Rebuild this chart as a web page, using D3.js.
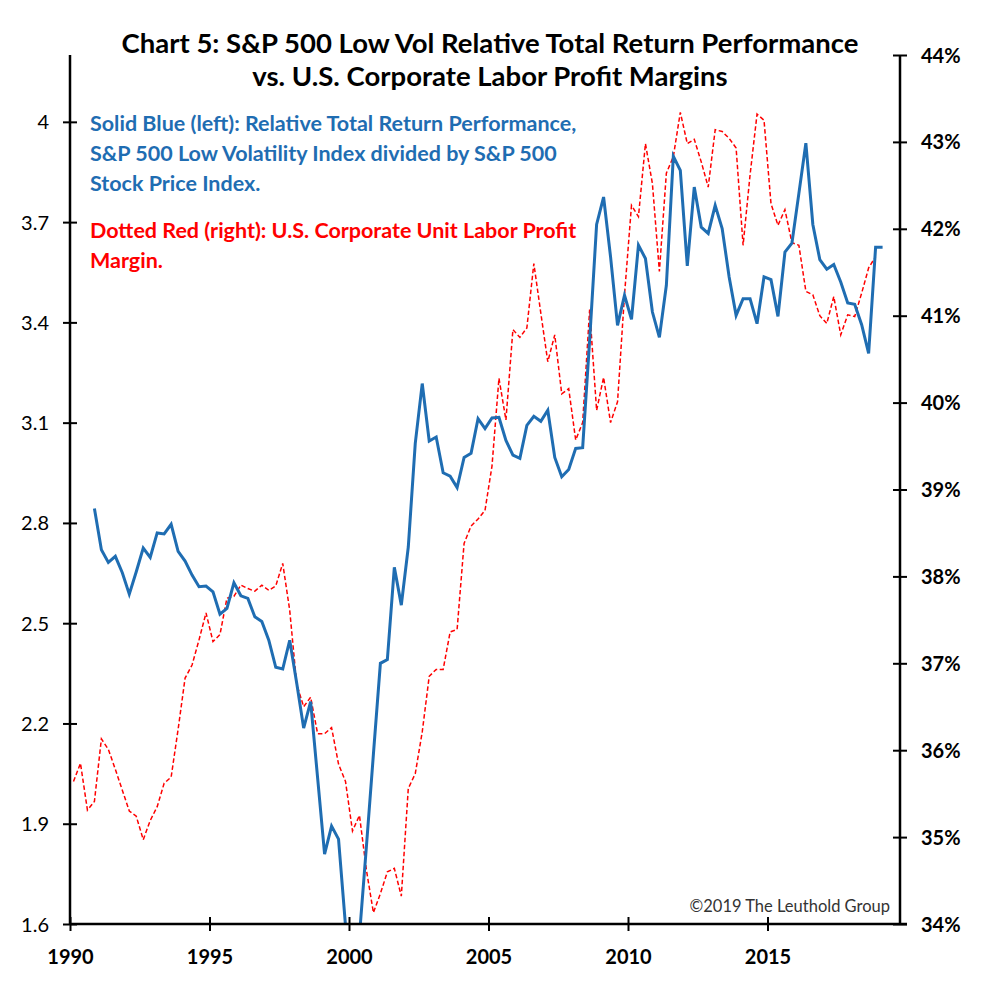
<!DOCTYPE html>
<html><head><meta charset="utf-8">
<script src="https://cdn.jsdelivr.net/npm/d3@7"></script>
<style>
html,body{margin:0;padding:0;background:#fff;}
svg{display:block;font-family:Lato,"Open Sans",sans-serif;}
</style></head>
<body>
<svg id="chart" width="1000" height="988"></svg>
<script>
// ---- data ----
const blueStart = 1990.875;   // first quarter of blue series (decimal year)
const redStart = 1990.125;    // first quarter of red series (decimal year)
const quarterStep = 0.25;

const relativeReturn = [
 2.843,2.72,2.682,2.70,2.651,2.587,2.654,2.725,2.697,2.770,2.767,2.796,2.715,2.686,2.644,2.609,
 2.611,2.594,2.527,2.544,2.621,2.582,2.574,2.519,2.505,2.449,2.368,2.363,2.449,2.321,2.186,2.265,
 2.037,1.809,1.893,1.854,1.595,1.45,1.565,1.833,2.108,2.38,2.391,2.667,2.554,2.728,3.038,3.217,
 3.045,3.057,2.95,2.94,2.906,2.996,3.008,3.112,3.082,3.114,3.116,3.047,3.003,2.993,3.092,3.119,
 3.104,3.137,2.996,2.938,2.96,3.023,3.025,3.346,3.693,3.775,3.596,3.391,3.481,3.409,3.631,3.591,
 3.431,3.355,3.511,3.897,3.855,3.569,3.805,3.685,3.666,3.75,3.681,3.536,3.421,3.471,3.471,3.396,
 3.536,3.528,3.418,3.61,3.637,3.786,3.936,3.693,3.588,3.559,3.573,3.521,3.458,3.454,3.393,3.307,
 3.625,3.625
];

const laborMargin = [
 35.64,35.85,35.31,35.41,36.13,36.01,35.78,35.54,35.30,35.24,34.97,35.19,35.35,35.62,35.69,36.24,
 36.83,36.98,37.27,37.58,37.25,37.33,37.75,37.77,37.90,37.86,37.83,37.90,37.84,37.89,38.15,37.61,
 36.76,36.50,36.61,36.19,36.19,36.26,35.84,35.64,35.07,35.25,34.62,34.13,34.35,34.60,34.64,34.32,
 35.56,35.73,36.21,36.85,36.93,36.93,37.36,37.39,38.38,38.58,38.66,38.76,39.27,40.28,39.80,40.84,
 40.75,40.86,41.60,41.03,40.47,40.78,40.10,40.16,39.57,39.77,41.07,39.91,40.29,39.77,40.01,41.24,
 42.27,42.14,42.98,42.52,41.51,42.64,42.83,43.34,42.98,43.03,42.77,42.48,43.14,43.12,43.04,42.93,
 41.81,42.62,43.32,43.25,42.29,42.04,42.22,41.84,41.81,41.28,41.24,41.00,40.91,41.22,40.78,41.01,
 40.99,41.26,41.55,41.68
];

const xTicks = [1990,1995,2000,2005,2010,2015];
const leftTicks = [1.6,1.9,2.2,2.5,2.8,3.1,3.4,3.7,4.0];
const rightTicks = [34,35,36,37,38,39,40,41,42,43,44];

const titleLines = ["Chart 5: S&P 500 Low Vol Relative Total Return Performance",
                    "vs. U.S. Corporate Labor Profit Margins"];
const blueNote = ["Solid Blue (left): Relative Total Return Performance,",
                  "S&P 500 Low Volatility Index divided by S&P 500",
                  "Stock Price Index."];
const redNote = ["Dotted Red (right): U.S. Corporate Unit Labor Profit",
                 "Margin."];
const credit = "©2019 The Leuthold Group";

// ---- layout ----
const L = 70, R = 900, T = 55, B = 924;
const svg = d3.select("#chart");

const x = d3.scaleLinear().domain([1990, 2020]).range([L, 907]);
const yL = d3.scaleLinear().domain([1.6, 4.2]).range([B, T]);
const yR = d3.scaleLinear().domain([34, 44]).range([B, T]);

const blueData = relativeReturn.map((v,i)=>({t: blueStart + i*quarterStep, v}));
const redData = laborMargin.map((v,i)=>({t: redStart + i*quarterStep, v}));

svg.append("defs").append("clipPath").attr("id","plot")
  .append("rect").attr("x",L).attr("y",0).attr("width",R-L+10).attr("height",B);

const g = svg.append("g").attr("clip-path","url(#plot)");

g.append("path").datum(redData)
  .attr("fill","none").attr("stroke","#ff0000").attr("stroke-width",1.5)
  .attr("stroke-dasharray","4.5,2.5")
  .attr("d", d3.line().x(d=>x(d.t)).y(d=>yR(d.v)));

g.append("path").datum(blueData)
  .attr("fill","none").attr("stroke","#1f6db2").attr("stroke-width",3)
  .attr("stroke-linejoin","miter")
  .attr("d", d3.line().x(d=>x(d.t)).y(d=>yL(d.v)));

// axes
const axisCol = "#000";
// left axis
const leftAxis = d3.axisLeft(yL).tickValues(leftTicks).tickSize(0).tickPadding(0)
  .tickFormat(d=>d3.format(".1f")(d).replace(/\.0$/,""));
const la = svg.append("g").attr("transform",`translate(${L},0)`).call(leftAxis);
la.select(".domain").remove();
la.selectAll(".tick text").attr("x",-21).attr("dy","0.35em")
  .attr("font-size",20).attr("fill","#000").attr("font-family","Lato,sans-serif");
la.selectAll(".tick").append("line").attr("x1",-7).attr("x2",7).attr("stroke",axisCol).attr("stroke-width",2);
svg.append("line").attr("x1",L).attr("x2",L).attr("y1",T).attr("y2",B).attr("stroke",axisCol).attr("stroke-width",2.5);

// right axis
const rightAxis = d3.axisRight(yR).tickValues(rightTicks).tickSize(0).tickPadding(0)
  .tickFormat(d=>d+"%");
const ra = svg.append("g").attr("transform",`translate(${R},0)`).call(rightAxis);
ra.select(".domain").remove();
ra.selectAll(".tick text").attr("x",21).attr("dy","0.35em")
  .attr("font-size",20).attr("font-weight","bold").attr("fill","#000").attr("font-family","Lato,sans-serif");
ra.selectAll(".tick").append("line").attr("x1",-7).attr("x2",7).attr("stroke",axisCol).attr("stroke-width",2);
svg.append("line").attr("x1",R).attr("x2",R).attr("y1",T).attr("y2",B).attr("stroke",axisCol).attr("stroke-width",2.5);

// bottom axis
const bottomAxis = d3.axisBottom(x).tickValues(xTicks).tickSize(0).tickPadding(0).tickFormat(d3.format("d"));
const ba = svg.append("g").attr("transform",`translate(0,${B})`).call(bottomAxis);
ba.select(".domain").remove();
ba.selectAll(".tick text").attr("y",40).attr("dy",0)
  .attr("font-size",20).attr("font-weight","bold").attr("fill","#000").attr("font-family","Lato,sans-serif");
ba.selectAll(".tick").append("line").attr("y1",-7).attr("y2",7).attr("stroke",axisCol).attr("stroke-width",2);
svg.append("line").attr("x1",L).attr("x2",907).attr("y1",B).attr("y2",B).attr("stroke",axisCol).attr("stroke-width",2.5);

// title
svg.append("g").selectAll("text").data(titleLines).join("text")
  .attr("x",490).attr("y",(d,i)=>53+i*33).attr("text-anchor","middle")
  .attr("font-size",27.5).attr("font-weight","bold").attr("fill","#000")
  .text(d=>d);

// notes
svg.append("g").selectAll("text").data(blueNote).join("text")
  .attr("x",90).attr("y",(d,i)=>131+i*30)
  .attr("font-size",21.5).attr("font-weight","bold").attr("fill","#1f6db2")
  .text(d=>d);
svg.append("g").selectAll("text").data(redNote).join("text")
  .attr("x",90).attr("y",(d,i)=>238+i*30)
  .attr("font-size",21.5).attr("font-weight","bold").attr("fill","#ff0000")
  .text(d=>d);

svg.append("text").attr("x",890).attr("y",912).attr("text-anchor","end")
  .attr("font-size",16.5).attr("fill","#333").text(credit);
</script>
</body></html>
